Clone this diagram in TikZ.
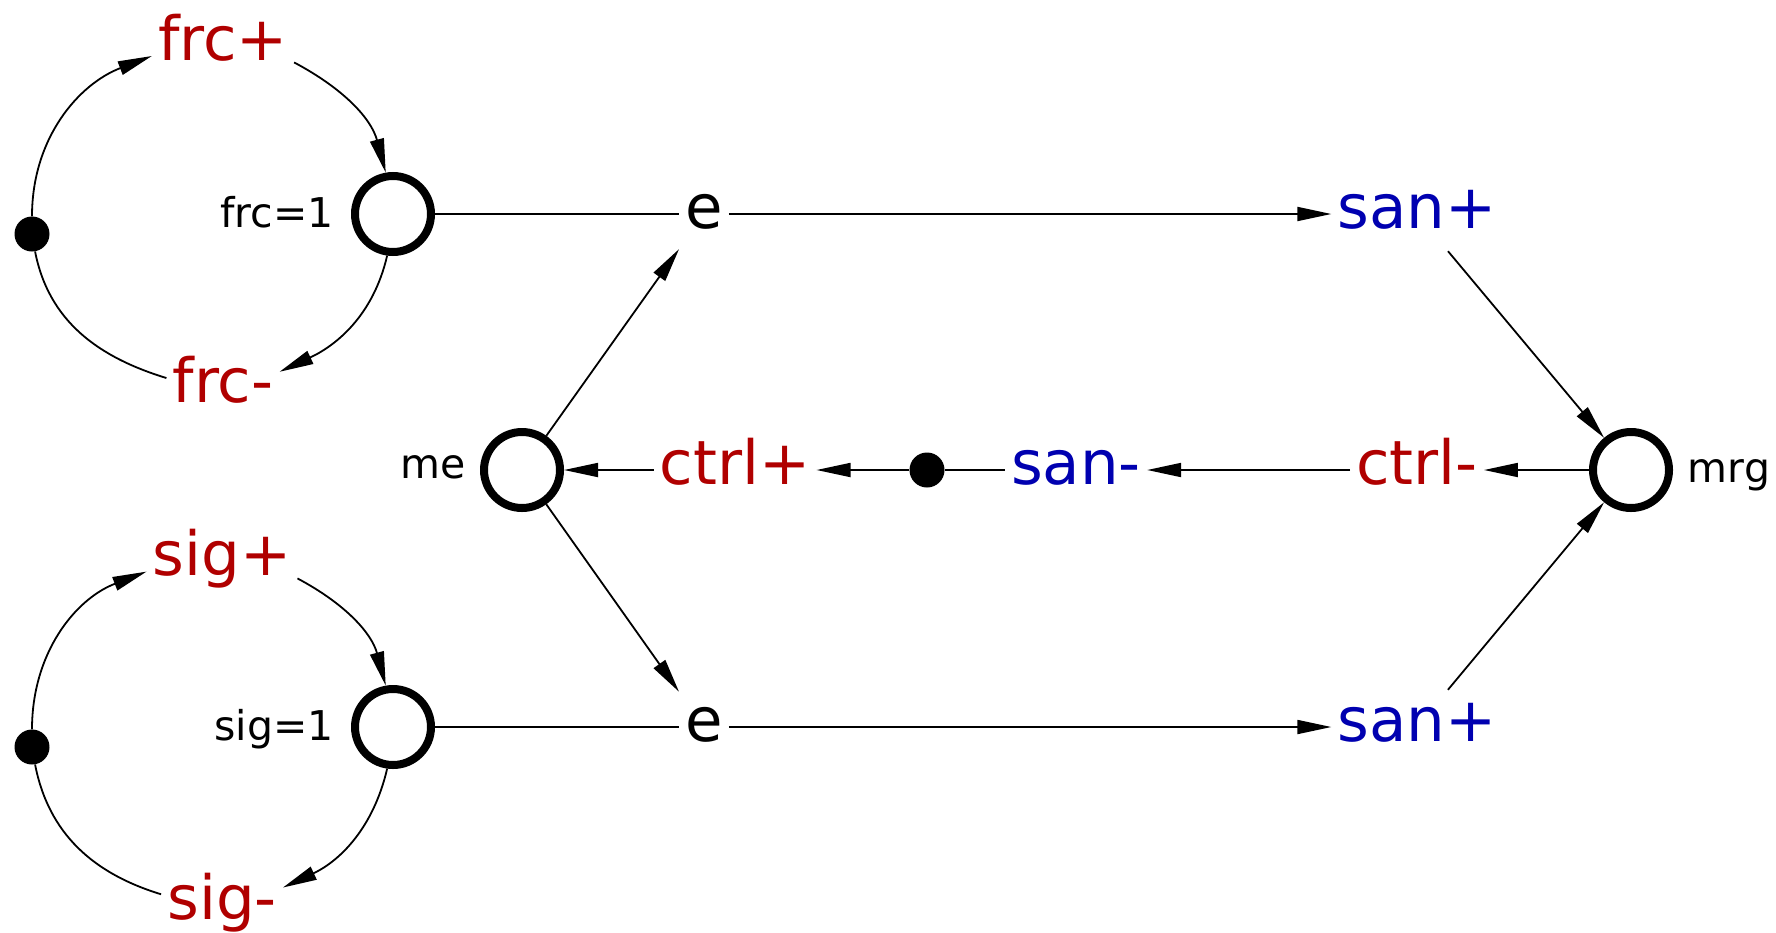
\documentclass[tikz,border=0pt]{standalone}
\usepackage{fontspec}
\setmainfont{DejaVu Sans}
\usetikzlibrary{arrows.meta}
\definecolor{myred}{RGB}{176,0,0}
\definecolor{myblue}{RGB}{0,0,176}
\begin{document}
\begin{tikzpicture}[x=1pt,y=1pt,
  conn/.style={line width=1.8pt},
  arr/.style={conn,-{Triangle[length=34pt,width=14pt]}},
  big/.style={font=\fontsize{61}{70}\selectfont, inner xsep=6pt, inner ysep=0pt,
              text height=45pt, text depth=16pt, minimum height=74pt},
  place/.style={circle, draw, line width=8pt, minimum size=76pt, inner sep=0pt},
  blob/.style={circle, fill, minimum size=35pt, inner sep=0pt},
  lab/.style={font=\fontsize{41}{48}\selectfont, inner sep=0pt, anchor=base}]
\useasboundingbox (0,0) rectangle (1776,-932);
% top loop
\node[blob] (dA) at (32,-234) {};
\node[big, text=myred] (frcp) at (223,-46) {frc+};
\node[place] (frcC) at (393,-214) {};
\node[lab] (frcL) at (277,-227) {frc=1};
\node[big, text=myred] (frcm) at (223,-388) {frc-};
% bottom loop
\node[blob] (dC) at (32,-747) {};
\node[big, text=myred] (sigp) at (222,-561) {sig+};
\node[place] (sigC) at (393,-727) {};
\node[lab] (sigL) at (274,-740) {sig=1};
\node[big, text=myred] (sigm) at (222,-905) {sig-};
% main
\node[big] (e1) at (704,-214) {e};
\node[big, text=myblue] (sanp1) at (1417,-214) {san+};
\node[place] (me) at (522,-470) {};
\node[lab] (meL) at (433,-478) {me};
\node[big, text=myred] (ctrlp) at (735,-470) {ctrl+};
\node[blob] (dB) at (927,-470) {};
\node[big, text=myblue] (sanm) at (1076,-470) {san-};
\node[big, text=myred] (ctrlm) at (1417,-470) {ctrl-};
\node[place] (mrg) at (1631,-470) {};
\node[lab] (mrgL) at (1729,-482) {mrg};
\node[big] (e2) at (704,-727) {e};
\node[big, text=myblue] (sanp2) at (1417,-727) {san+};
% loop connectors
\draw[arr] (dA.north) to[out=90,in=201] (frcp.188);
\draw[arr] (frcp.-13) to[out=-28,in=105] (frcC.100);
\draw[arr] (frcC.262) to[out=257,in=25] (frcm.16);
\draw[conn] (frcm.170) to[out=163,in=281] (dA.-80);
\draw[arr] (dC.north) to[out=90,in=201] (sigp.188);
\draw[arr] (sigp.-13) to[out=-28,in=105] (sigC.100);
\draw[arr] (sigC.262) to[out=257,in=25] (sigm.16);
\draw[conn] (sigm.170) to[out=163,in=281] (dC.-80);
% main connectors
\draw[conn] (frcC) -- (e1);
\draw[arr] (e1) -- (sanp1);
\draw[arr] (me) -- (e1);
\draw[arr] (me) -- (e2);
\draw[conn] (sigC) -- (e2);
\draw[arr] (e2) -- (sanp2);
\draw[arr] (sanp1) -- (mrg);
\draw[arr] (sanp2) -- (mrg);
\draw[arr] (mrg) -- (ctrlm);
\draw[arr] (ctrlm) -- (sanm);
\draw[conn] (sanm) -- (dB);
\draw[arr] (dB) -- (ctrlp);
\draw[arr] (ctrlp) -- (me);
\end{tikzpicture}
\end{document}
